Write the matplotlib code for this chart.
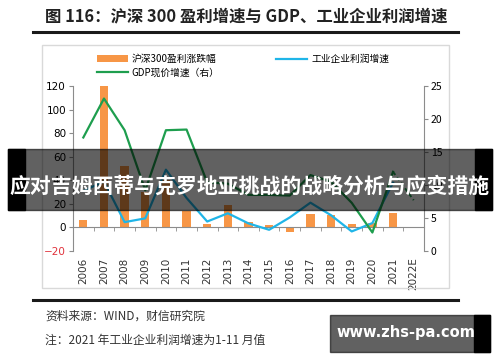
import matplotlib.pyplot as plt
import matplotlib.transforms as mtransforms
from matplotlib.patches import Rectangle
from matplotlib.lines import Line2D

plt.rcParams['font.family'] = ['Noto Sans CJK SC', 'DejaVu Sans']

# 数据
years = ['2006', '2007', '2008', '2009', '2010', '2011', '2012', '2013', '2014',
         '2015', '2016', '2017', '2018', '2019', '2020', '2021', '2022E']
hs300_profit = [6.5, 120, 52, 30, 40, 14, 3, 19, 4.5, 2.3, -3.5, 11, 10.5, 2.5, 4, 12.5, None]
industry_profit = [31, 39, 4.5, 7.7, 49, 25, 5, 12, 3.4, -2, 8.5, 21, 10.3, -3.4, 3.7, 38, None]
gdp_nominal = [17.2, 23.1, 18.3, 9.2, 18.3, 18.4, 10.4, 10.2, 8.5, 8.5, 8.4, 11.5, 10.5, 7.3, 2.8, 12.0, 7.7]

left_ticks = [-20, 0, 20, 40, 60, 80, 100, 120]
right_ticks = [0, 5, 10, 15, 20, 25]

orange = '#F79646'
blue = '#1FB5E8'
green = '#1E9E4E'
W, H = 500, 362

fig = plt.figure(figsize=(5, 3.62), dpi=100)


def fx(px):
    return px / W


def fy(py):
    return 1 - py / H


# 外框、标题线
fig.patches.append(Rectangle((fx(42), fy(288)), fx(449) - fx(42), fy(45) - fy(288),
                             transform=fig.transFigure, fill=False, ec='#D9D9D9', lw=1))
fig.add_artist(Line2D([fx(33), fx(458)], [fy(32), fy(32)], color='#1a1a1a', lw=2.2))
fig.add_artist(Line2D([fx(33), fx(458)], [fy(300), fy(300)], color='#1a1a1a', lw=2.2))
fig.text(fx(246), fy(16), '图 116：沪深 300 盈利增速与 GDP、工业企业利润增速',
         ha='center', va='center', fontsize=11.8, fontweight='bold', color='#222222')
fig.text(fx(45), fy(316), '资料来源：WIND，财信研究院', ha='left', va='center',
         fontsize=8.5, color='#333333', style='italic')
fig.text(fx(45), fy(340), '注：2021 年工业企业利润增速为1-11 月值', ha='left', va='center',
         fontsize=8.5, color='#333333', style='italic')

ax = fig.add_axes([fx(73), fy(251), fx(424) - fx(73), fy(86) - fy(251)])
ax2 = ax.twinx()

x = list(range(len(years)))
bar_x = [i for i, v in zip(x, hs300_profit) if v is not None]
bar_v = [v for v in hs300_profit if v is not None]
b = ax.bar(bar_x, bar_v, width=0.4, color=orange, zorder=2, label='沪深300盈利涨跌幅')

ind_x = [i for i, v in zip(x, industry_profit) if v is not None]
ind_v = [v for v in industry_profit if v is not None]
l_blue, = ax.plot(ind_x, ind_v, color=blue, lw=1.6, zorder=3, label='工业企业利润增速')

l_green, = ax2.plot(x[:-1], gdp_nominal[:-1], color=green, lw=1.6, zorder=3,
                    label='GDP现价增速（右）')
ax2.plot(x[-2:], gdp_nominal[-2:], color=green, lw=1.4, ls=(0, (2, 1.5)), zorder=3)

ax.set_xlim(-0.5, len(years) - 0.5)
ax.set_ylim(-20, 120)
ax2.set_ylim(0, 25)
ax.set_yticks(left_ticks)
ax2.set_yticks(right_ticks)

for s in ['top', 'right']:
    ax.spines[s].set_visible(False)
for s in ['top', 'left']:
    ax2.spines[s].set_visible(False)
ax.spines['left'].set_color('#8c8c8c')
ax2.spines['right'].set_color('#8c8c8c')
ax2.spines['bottom'].set_visible(False)
ax.spines['bottom'].set_position(('data', 0))
ax.spines['bottom'].set_color('#8c8c8c')

ax.set_xticks(x)
ax.set_xticklabels([])
ax.tick_params(axis='x', which='major', length=0)
ax.set_xticks([i + 0.5 for i in x[:-1]], minor=True)
ax.tick_params(axis='x', which='minor', length=3, color='#8c8c8c', direction='out')
ax.tick_params(axis='y', length=3, color='#8c8c8c', labelsize=7.5, pad=2)
ax2.tick_params(axis='y', length=3, color='#8c8c8c', labelsize=7.5, pad=2)
for lab in ax.get_yticklabels():
    lab.set_family('DejaVu Sans')
    if lab.get_text().startswith(('-', '−')):
        lab.set_color('#E0303A')

trans = mtransforms.blended_transform_factory(ax.transData, ax.transAxes)
for i, y in zip(x, years):
    ax.text(i, -0.04, y, transform=trans, rotation=90, ha='center', va='top',
            fontsize=7.5, color='#333333', family='DejaVu Sans')

fig.legend([b, l_green, l_blue], ['沪深300盈利涨跌幅', 'GDP现价增速（右）', '工业企业利润增速'],
           ncol=2, loc='center left', bbox_to_anchor=(fx(88), fy(66)), frameon=False,
           fontsize=7, handlelength=3.2, columnspacing=5.8, labelspacing=0.35,
           handletextpad=0.4)

# 叠加横幅
fig.patches.append(Rectangle((fx(8), fy(210)), fx(492) - fx(8), fy(149) - fy(210),
                             transform=fig.transFigure, color='black', alpha=0.62, zorder=10))
fig.patches.append(Rectangle((fx(8), fy(210)), fx(25) - fx(8), fy(149) - fy(210),
                             transform=fig.transFigure, color='black', zorder=10))
fig.patches.append(Rectangle((fx(475), fy(210)), fx(492) - fx(475), fy(149) - fy(210),
                             transform=fig.transFigure, color='black', zorder=10))
fig.text(fx(250), fy(186), '应对吉姆西蒂与克罗地亚挑战的战略分析与应变措施', ha='center',
         va='center', fontsize=15, fontweight='bold', color='white', zorder=11)

# 水印
fig.patches.append(Rectangle((fx(330), fy(352)), fx(490) - fx(330), fy(315) - fy(352),
                             transform=fig.transFigure, color='black', alpha=0.62, zorder=10))
fig.patches.append(Rectangle((fx(474), fy(352)), fx(490) - fx(474), fy(315) - fy(352),
                             transform=fig.transFigure, color='black', zorder=10))
fig.text(fx(406), fy(333), 'www.zhs-pa.com', ha='center', va='center', fontsize=10.5,
         fontweight='bold', color='white', zorder=11, family='DejaVu Sans')

fig.savefig('out.png', dpi=100)
